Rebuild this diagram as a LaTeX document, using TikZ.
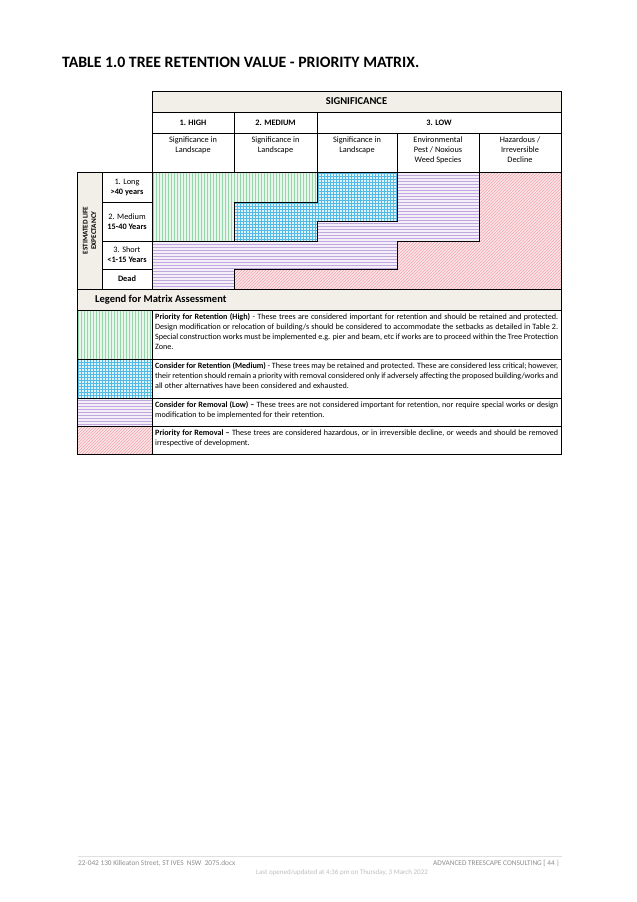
\documentclass[tikz,border=0pt]{standalone}
\usepackage{fontspec}
\setmainfont{Carlito}
\usetikzlibrary{patterns}
\definecolor{beige}{RGB}{242,239,233}
\definecolor{grn}{RGB}{60,180,100}
\definecolor{blu}{RGB}{40,170,220}
\definecolor{pur}{RGB}{150,110,200}
\definecolor{rd}{RGB}{230,90,100}
\tikzset{
  cell/.style={font=\fontsize{8.3}{10}\selectfont,align=center,inner sep=0.75pt},
  boldcell/.style={cell,font=\fontsize{8.3}{10}\selectfont\bfseries},
  legtext/.style={anchor=north west,text width=403pt,align=justify,inner sep=0pt,font=\fontsize{8.1}{10}\selectfont},
}
\begin{document}
\begin{tikzpicture}[x=1pt,y=-1pt]
\useasboundingbox (0,0) rectangle (637,902);
\fill[white] (0,0) rectangle (637,902);

% Title
\node (title) [anchor=west,inner sep=0pt,font=\fontsize{15.8}{18}\selectfont\bfseries] at (62,62) {TABLE 1.0 TREE RETENTION VALUE - PRIORITY MATRIX.};

% Header fills
\fill[beige] (152,91) rectangle (561,112);
\fill[beige] (77,172) rectangle (102,289);
\fill[beige] (77,289) rectangle (561,310);

% Matrix areas
\fill[grn!12] (152,172) -- (317,172) -- (317,202) -- (234,202) -- (234,241) -- (152,241) -- cycle;
\fill[pattern=vertical lines,pattern color=grn!55] (152,172) -- (317,172) -- (317,202) -- (234,202) -- (234,241) -- (152,241) -- cycle;
\fill[blu!15] (317,172) -- (397,172) -- (397,221) -- (317,221) -- (317,241) -- (234,241) -- (234,202) -- (317,202) -- cycle;
\fill[pattern=grid,pattern color=blu!80] (317,172) -- (397,172) -- (397,221) -- (317,221) -- (317,241) -- (234,241) -- (234,202) -- (317,202) -- cycle;
\fill[pur!12] (397,172) -- (479,172) -- (479,241) -- (397,241) -- (397,269) -- (234,269) -- (234,289) -- (152,289) -- (152,241) -- (317,241) -- (317,221) -- (397,221) -- cycle;
\fill[pattern=horizontal lines,pattern color=pur!60] (397,172) -- (479,172) -- (479,241) -- (397,241) -- (397,269) -- (234,269) -- (234,289) -- (152,289) -- (152,241) -- (317,241) -- (317,221) -- (397,221) -- cycle;
\fill[rd!15] (479,172) -- (561,172) -- (561,289) -- (234,289) -- (234,269) -- (397,269) -- (397,241) -- (479,241) -- cycle;
\fill[pattern=north east lines,pattern color=rd!55] (479,172) -- (561,172) -- (561,289) -- (234,289) -- (234,269) -- (397,269) -- (397,241) -- (479,241) -- cycle;

% Legend swatches
\fill[grn!12] (77,310) rectangle (152,359);
\fill[pattern=vertical lines,pattern color=grn!55] (77,310) rectangle (152,359);
\fill[blu!15] (77,359) rectangle (152,398);
\fill[pattern=grid,pattern color=blu!80] (77,359) rectangle (152,398);
\fill[pur!12] (77,398) rectangle (152,426);
\fill[pattern=horizontal lines,pattern color=pur!60] (77,398) rectangle (152,426);
\fill[rd!15] (77,426) rectangle (152,454);
\fill[pattern=north east lines,pattern color=rd!55] (77,426) rectangle (152,454);

% Grid lines
\begin{scope}[line width=0.8pt]
\draw (152,91) rectangle (561,172);
\draw (152,112) -- (561,112) (152,133) -- (561,133);
\draw (234,112) -- (234,172) (317,112) -- (317,172) (397,133) -- (397,172) (479,133) -- (479,172);
\draw (77,172) rectangle (561,454);
\draw (102,172) -- (102,289) (152,172) -- (152,289);
\draw (102,202) -- (152,202) (102,241) -- (152,241) (102,269) -- (152,269);
\draw (77,289) -- (561,289) (77,310) -- (561,310) (77,359) -- (561,359) (77,398) -- (561,398) (77,426) -- (561,426);
\draw (152,310) -- (152,454);
% region borders
\draw (317,172) -- (317,202) -- (234,202) -- (234,241) -- (152,241);
\draw (397,172) -- (397,221) -- (317,221) -- (317,241) -- (234,241);
\draw (479,172) -- (479,241) -- (397,241) -- (397,269) -- (234,269) -- (234,289);
\end{scope}

% Header texts
\node (sig) [boldcell,font=\fontsize{10.5}{12}\selectfont\bfseries] at (356.5,101.5) {SIGNIFICANCE};
\node (high) [boldcell] at (193,122.5) {1. HIGH};
\node (med) [boldcell] at (275.5,122.5) {2. MEDIUM};
\node (low) [boldcell] at (439,122.5) {3. LOW};
\node (sub1) [cell,anchor=north] at (193,136) {Significance in\\Landscape};
\node (sub2) [cell,anchor=north] at (275.5,136) {Significance in\\Landscape};
\node (sub3) [cell,anchor=north] at (357,136) {Significance in\\Landscape};
\node (sub4) [cell,anchor=north] at (438,136) {Environmental\\Pest / Noxious\\Weed Species};
\node (sub5) [cell,anchor=north] at (520,136) {Hazardous /\\Irreversible\\Decline};

% Row labels
\node (life) [boldcell,rotate=90,font=\fontsize{7.2}{8.5}\selectfont\bfseries] at (89.5,230.5) {ESTIMATED LIFE\\EXPECTANCY};
\node (long) [cell] at (127,187) {1. Long\\\textbf{>40 years}};
\node (medium) [cell] at (127,221.5) {2. Medium\\\textbf{15-40 Years}};
\node (short) [cell] at (127,255) {3. Short\\\textbf{<1-15 Years}};
\node (dead) [boldcell] at (127,279) {Dead};

% Legend
\node (leghead) [anchor=west,inner sep=0pt,font=\fontsize{10.5}{12}\selectfont\bfseries] at (95,300) {Legend for Matrix Assessment};
\node (leg1) [legtext] at (155,313.5) {\textbf{Priority for Retention (High)} - These trees are considered important for retention and should be retained and protected. Design modification or relocation of building/s should be considered to accommodate the setbacks as detailed in Table 2. Special construction works must be implemented e.g. pier and beam, etc if works are to proceed within the Tree Protection Zone.};
\node (leg2) [legtext] at (155,362.5) {\textbf{Consider for Retention (Medium)} - These trees may be retained and protected. These are considered less critical; however, their retention should remain a priority with removal considered only if adversely affecting the proposed building/works and all other alternatives have been considered and exhausted.};
\node (leg3) [legtext] at (155,401.5) {\textbf{Consider for Removal (Low) –} These trees are not considered important for retention, nor require special works or design modification to be implemented for their retention.};
\node (leg4) [legtext] at (155,429.5) {\textbf{Priority for Removal –} These trees are considered hazardous, or in irreversible decline, or weeds and should be removed irrespective of development.};

% Footer
\draw[black!12,line width=0.6pt] (78,856) -- (562,856);
\node (footl) [anchor=west,inner sep=0pt,text=black!45,font=\fontsize{7.3}{8}\selectfont] at (78,863) {22-042 130 Killeaton Street, ST IVES\ \ NSW\ \ 2075.docx};
\node (footr) [anchor=east,inner sep=0pt,text=black!45,font=\fontsize{7.3}{8}\selectfont] at (560,863) {ADVANCED TREESCAPE CONSULTING [ 44 |};
\node (footc) [anchor=west,inner sep=0pt,text=black!25,font=\fontsize{7}{8}\selectfont] at (256,873) {Last opened/updated at 4:36 pm on Thursday, 3 March 2022};
\end{tikzpicture}
\end{document}
